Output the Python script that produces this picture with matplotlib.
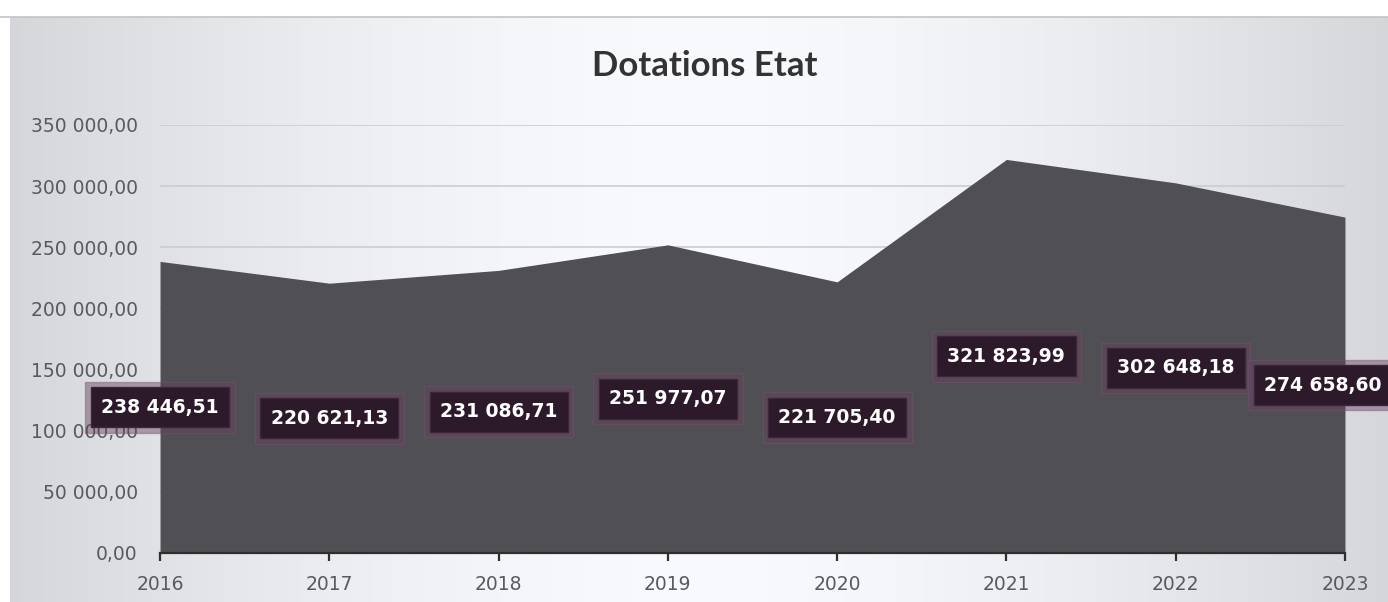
import numpy as np
import matplotlib
matplotlib.use("Agg")
import matplotlib.pyplot as plt
from matplotlib.ticker import FuncFormatter

# Dotations de l'Etat par année
annees = ["2016", "2017", "2018", "2019", "2020", "2021", "2022", "2023"]
dotations = [238446.51, 220621.13, 231086.71, 251977.07,
             221705.40, 321823.99, 302648.18, 274658.60]
graduations = [0, 50000, 100000, 150000, 200000, 250000, 300000, 350000]


def fr(v, pos=None):
    # format français : espace pour les milliers, virgule décimale
    s = "{:,.2f}".format(v)
    return s.replace(",", " ").replace(".", ",")


fig = plt.figure(figsize=(13.88, 6.02), dpi=100)
fig.patch.set_facecolor("white")

# fond dégradé gris -> blanc -> gris
bg = fig.add_axes([0.007, 0.0, 0.993, 0.972])
xs = np.linspace(-1, 1, 400)
ton = 0.84 + 0.14 * (1 - np.abs(xs) ** 1.6)
grad = np.stack([ton - 0.005, ton, ton + 0.015], axis=-1)
grad = np.clip(grad, 0, 1)[None, :, :]
bg.imshow(grad, aspect="auto", extent=[0, 1, 0, 1])
bg.set_axis_off()
fig.add_artist(plt.Line2D([0, 1], [0.972, 0.972], color="#c4c4c4",
                          linewidth=1.2, transform=fig.transFigure))

ax = fig.add_axes([0.1153, 0.0814, 0.8537, 0.711])
ax.patch.set_alpha(0)
x = np.arange(len(annees))

ax.fill_between(x, dotations, 0, color="#504f53", linewidth=0, zorder=2)

ax.set_xlim(0, len(annees) - 1)
ax.set_ylim(0, 350000)
ax.set_yticks(graduations)
ax.yaxis.set_major_formatter(FuncFormatter(fr))
ax.set_xticks(x)
ax.set_xticklabels(annees)
ax.grid(axis="y", color="#c9cacf", linewidth=1.1, zorder=1)
ax.set_axisbelow(True)

for s in ["top", "right", "left"]:
    ax.spines[s].set_visible(False)
ax.spines["bottom"].set_color("#2e2e30")
ax.spines["bottom"].set_linewidth(1.6)
ax.spines["bottom"].set_zorder(3)

ax.tick_params(axis="y", length=0, pad=16, labelsize=13.5, labelcolor="#5a5a5e")
ax.tick_params(axis="x", direction="out", length=6, width=1.6,
               color="#2e2e30", pad=10, labelsize=13.5, labelcolor="#5a5a5e")
for t in ax.get_xticklabels() + ax.get_yticklabels():
    t.set_fontfamily("DejaVu Sans")

fig.text(0.508, 0.89, "Dotations Etat", ha="center", va="center",
         fontsize=25, fontweight="bold", color="#333335", family="Lato")

# étiquettes de valeur, au milieu de la surface
for i, v in enumerate(dotations):
    dx = -22 if i == len(dotations) - 1 else 0
    ax.annotate(fr(v), (x[i], v / 2), xytext=(dx, 0),
                textcoords="offset pixels", ha="center", va="center",
                fontsize=13.5, fontweight="bold", color="white",
                family="DejaVu Sans", zorder=5, annotation_clip=False,
                bbox=dict(boxstyle="square,pad=0.85", facecolor="#62405f",
                          edgecolor="#745473", linewidth=1, alpha=0.45))
    ax.annotate(fr(v), (x[i], v / 2), xytext=(dx, 0),
                textcoords="offset pixels", ha="center", va="center",
                fontsize=13.5, fontweight="bold", color="white",
                family="DejaVu Sans", zorder=6, annotation_clip=False,
                bbox=dict(boxstyle="square,pad=0.55", facecolor="#2c1929",
                          edgecolor="#3d2639", linewidth=1))

fig.savefig("out.png", dpi=100)
